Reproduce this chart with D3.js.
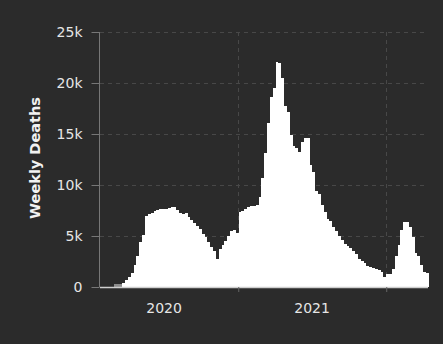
<!DOCTYPE html>
<html>
<head>
<meta charset="utf-8">
<script src="https://cdn.jsdelivr.net/npm/d3@7"></script>
<style>
  html, body { margin: 0; padding: 0; background: #2b2b2b; }
  svg { display: block; }
</style>
</head>
<body>
<script>
// ---- data ----
const firstWeek = "2020-02-29";           // start of first weekly bar
const weeklyDeaths = [
  0, 0, 0,
  375, 640, 965, 1400, 2120, 3000, 4410, 5140, 6970, 7200,
  7300, 7460, 7550, 7600, 7620, 7650, 7750, 7800, 7820, 7530,
  7250, 7200, 7250, 6900, 6600, 6300, 6000, 5700, 5200, 4900,
  4400, 3900, 3550, 2700, 3700, 4100, 4500, 5000, 5500, 5600,
  5250, 7400, 7450, 7600, 7800, 7900, 7950, 8020, 8840, 10700,
  13100, 16060, 18580, 19500, 22100, 22000, 20490, 17700, 17200, 14900,
  13800, 13600, 13200, 14250, 14650, 14650, 11960, 11240, 9400, 9070,
  8020, 7360, 6710, 6500, 5900, 5500, 5000, 4600, 4200, 4000,
  3800, 3500, 3200, 2700, 2550, 2400, 2100, 2000, 1900, 1800,
  1700, 1450, 1000, 1250, 1300, 1800, 3000, 4100, 5600, 6400,
  6350, 5900, 4900, 3300, 3000, 2200, 1500, 1400
];
const yTicks = [0, 5000, 10000, 15000, 20000, 25000];
const yTickLabels = ["0", "5k", "10k", "15k", "20k", "25k"];
const yearTicks = ["2021-01-01", "2022-01-01"];
const yearLabels = ["2020", "2021"];
const yearLabelDates = ["2020-07-02", "2021-07-02"];
const xDomain = ["2020-01-26", "2022-04-14"];
const yTitle = "Weekly Deaths";

// ---- setup ----
const W = 443, H = 344;
const parse = d3.utcParse("%Y-%m-%d");
const start = parse(firstWeek);
const data = weeklyDeaths.map((v, i) => ({ date: d3.utcDay.offset(start, 7 * i), value: v }));

const svg = d3.select("body").append("svg").attr("width", W).attr("height", H);
svg.append("rect").attr("width", W).attr("height", H).attr("fill", "#2b2b2b");

const x = d3.scaleUtc().domain(xDomain.map(parse)).range([100, 428]);
const y = d3.scaleLinear().domain([0, 25000]).range([287, 32]);

const font = "'DejaVu Sans', sans-serif";

// grid
const grid = svg.append("g");
grid.selectAll("line.h").data(yTicks.filter(d => d > 0)).join("line")
  .attr("x1", 100).attr("x2", 428)
  .attr("y1", d => Math.round(y(d)) + 0.5).attr("y2", d => Math.round(y(d)) + 0.5)
  .attr("stroke", "#484848").attr("stroke-width", 1).attr("stroke-dasharray", "4,4");
grid.selectAll("line.v").data(yearTicks.map(parse)).join("line")
  .attr("x1", d => Math.round(x(d)) + 0.5).attr("x2", d => Math.round(x(d)) + 0.5)
  .attr("y1", 32).attr("y2", 287)
  .attr("stroke", "#484848").attr("stroke-width", 1).attr("stroke-dasharray", "4,4");

// bars (pixel-snapped so neighbours touch without seams)
const bx0 = d => Math.round(x(d.date));
const bx1 = d => Math.round(x(d3.utcDay.offset(d.date, 7)));
svg.append("g").attr("shape-rendering", "crispEdges")
  .selectAll("rect").data(data).join("rect")
  .attr("x", bx0)
  .attr("width", d => bx1(d) - bx0(d))
  .attr("y", d => d.value > 0 ? Math.round(y(d.value)) : 284)
  .attr("height", d => d.value > 0 ? 287 - Math.round(y(d.value)) : 3)
  .attr("fill", d => d.value > 0 ? "#ffffff" : "#8c8c8c");

// x axis
const xAxis = svg.append("g").attr("transform", "translate(0,287)")
  .call(d3.axisBottom(x).tickValues(yearTicks.map(parse)).tickSize(5).tickFormat(""));
xAxis.select(".domain").attr("stroke", "#cfcfcf").attr("stroke-width", 1.5).attr("d", "M100,0.5H428");
xAxis.selectAll(".tick line").attr("stroke", "#666");

svg.append("g").selectAll("text").data(yearLabels).join("text")
  .attr("x", (d, i) => x(parse(yearLabelDates[i])))
  .attr("y", 312.5)
  .attr("text-anchor", "middle")
  .attr("fill", "#e6e6e6")
  .style("font-family", font).style("font-size", "14px")
  .text(d => d);

// y axis
const yAxis = svg.append("g").attr("transform", "translate(99.5,0)")
  .call(d3.axisLeft(y).tickValues(yTicks).tickSize(8).tickPadding(9)
    .tickFormat((d, i) => yTickLabels[i]));
yAxis.select(".domain").attr("stroke", "#777").attr("d", "M0,32V287");
yAxis.selectAll(".tick line").attr("stroke", "#777");
yAxis.selectAll(".tick text").attr("fill", "#e6e6e6")
  .style("font-family", font).style("font-size", "14px");

// y title
svg.append("text")
  .attr("transform", "translate(40,158) rotate(-90)")
  .attr("text-anchor", "middle")
  .attr("fill", "#f2f2f2")
  .style("font-family", font).style("font-size", "14.5px").style("font-weight", "bold")
  .text(yTitle);
</script>
</body>
</html>
